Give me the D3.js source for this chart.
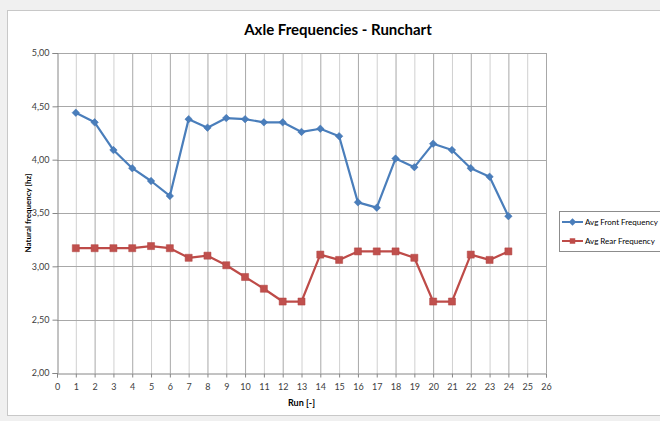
<!DOCTYPE html>
<html>
<head>
<meta charset="utf-8">
<script src="https://cdn.jsdelivr.net/npm/d3@7"></script>
<style>
  body { margin: 0; background: #f0f0f0; }
  svg { display: block; font-family: Lato, "DejaVu Sans", sans-serif; }
</style>
</head>
<body>
<svg id="chart" width="660" height="421"></svg>
<script>
const runs = d3.range(1, 25);
const frontFreq = [4.44, 4.35, 4.09, 3.92, 3.80, 3.66, 4.38, 4.30, 4.39, 4.38, 4.35, 4.35,
                   4.26, 4.29, 4.22, 3.60, 3.55, 4.01, 3.93, 4.15, 4.09, 3.92, 3.84, 3.47];
const rearFreq = [3.17, 3.17, 3.17, 3.17, 3.19, 3.17, 3.08, 3.10, 3.01, 2.90, 2.79, 2.67,
                  2.67, 3.11, 3.06, 3.14, 3.14, 3.14, 3.08, 2.67, 2.67, 3.11, 3.06, 3.14];
const xTicks = d3.range(0, 27);
const yTicks = [2.0, 2.5, 3.0, 3.5, 4.0, 4.5, 5.0];
const seriesNames = ["Avg Front Frequency", "Avg Rear Frequency"];

const svg = d3.select("#chart");

// chart area frame
svg.append("rect")
    .attr("x", 7.5).attr("y", 10.5)
    .attr("width", 670).attr("height", 405)
    .attr("fill", "#fff").attr("stroke", "#c8c8c8");

const x = d3.scaleLinear().domain([0, 26]).range([57, 546]);
const y = d3.scaleLinear().domain([2, 5]).range([373, 53]);

// vertical grid
svg.append("g")
    .selectAll("line")
    .data(xTicks.slice(1))
    .enter().append("line")
    .attr("x1", d => x(d) + 0.5).attr("x2", d => x(d) + 0.5)
    .attr("y1", y(5)).attr("y2", y(2))
    .attr("stroke", d => d % 2 ? "#d0d0d0" : "#a8a8a8")
    .attr("stroke-width", 1);

// horizontal grid
svg.append("g")
    .selectAll("line")
    .data(yTicks.slice(1))
    .enter().append("line")
    .attr("x1", x(0)).attr("x2", x(26))
    .attr("y1", d => Math.round(y(d)) + 0.5).attr("y2", d => Math.round(y(d)) + 0.5)
    .attr("stroke", "#a8a8a8");

// axes
const yAxis = svg.append("g")
    .attr("transform", `translate(${x(0) + 0.5},0)`)
    .call(d3.axisLeft(y).tickValues(yTicks).tickSize(5).tickPadding(3)
        .tickFormat(d => d3.format(".2f")(d).replace(".", ",")));
const xAxis = svg.append("g")
    .attr("transform", `translate(0,${y(2) + 0.5})`)
    .call(d3.axisBottom(x).tickValues(xTicks).tickSize(4).tickPadding(6));

[xAxis, yAxis].forEach(a => {
    a.select(".domain").attr("stroke", "#868686");
    a.selectAll(".tick line").attr("stroke", "#868686");
    a.selectAll("text").attr("font-size", 9).attr("fill", "#404040")
        .attr("font-family", "Lato, sans-serif");
});

// series
const lineGen = vals => d3.line().x((d, i) => x(runs[i])).y(d => y(d))(vals);

svg.append("path")
    .attr("d", lineGen(frontFreq))
    .attr("fill", "none").attr("stroke", "#4a7ebb").attr("stroke-width", 2.2)
    .attr("stroke-linejoin", "round");
svg.append("path")
    .attr("d", lineGen(rearFreq))
    .attr("fill", "none").attr("stroke", "#be4b48").attr("stroke-width", 2.2)
    .attr("stroke-linejoin", "round");

const diamond = d3.symbol().type(d3.symbolDiamond2).size(36);
const square = d3.symbol().type(d3.symbolSquare).size(50);

svg.append("g").selectAll("path")
    .data(frontFreq)
    .enter().append("path")
    .attr("d", diamond)
    .attr("transform", (d, i) => `translate(${x(runs[i])},${y(d)})`)
    .attr("fill", "#4a7ebb").attr("stroke", "#3d6fae").attr("stroke-width", 0.5);

svg.append("g").selectAll("path")
    .data(rearFreq)
    .enter().append("path")
    .attr("d", square)
    .attr("transform", (d, i) => `translate(${x(runs[i])},${y(d)})`)
    .attr("fill", "#c0504d").attr("stroke", "#b04542").attr("stroke-width", 0.5);

// title
svg.append("text")
    .attr("x", 338).attr("y", 35)
    .attr("text-anchor", "middle")
    .attr("font-size", 15).attr("font-weight", "bold")
    .attr("fill", "#000")
    .text("Axle Frequencies - Runchart");

// axis titles
svg.append("text")
    .attr("transform", `translate(31,${(y(2) + y(5)) / 2})rotate(-90)`)
    .attr("text-anchor", "middle")
    .attr("font-size", 8).attr("font-weight", "bold")
    .text("Natural frequency [hz]");

svg.append("text")
    .attr("x", x(13)).attr("y", 406)
    .attr("text-anchor", "middle")
    .attr("font-size", 9).attr("font-weight", "bold")
    .text("Run [-]");

// legend
const legend = svg.append("g").attr("transform", "translate(559,211)");
legend.append("rect")
    .attr("x", 0.5).attr("y", 0.5).attr("width", 110).attr("height", 40)
    .attr("fill", "#fff").attr("stroke", "#8c8c8c");

const legendColors = ["#4a7ebb", "#be4b48"];
const legendSymbols = [diamond, d3.symbol().type(d3.symbolSquare).size(30)];
const item = legend.selectAll(".item")
    .data(seriesNames)
    .enter().append("g")
    .attr("transform", (d, i) => `translate(0,${11 + i * 19})`);
item.append("line")
    .attr("x1", 3).attr("x2", 24)
    .attr("stroke", (d, i) => legendColors[i]).attr("stroke-width", 2);
item.append("path")
    .attr("d", (d, i) => legendSymbols[i]())
    .attr("transform", "translate(13.5,0)")
    .attr("fill", (d, i) => legendColors[i]);
item.append("text")
    .attr("x", 26).attr("dy", "0.35em")
    .attr("font-size", 8)
    .attr("fill", "#000")
    .text(d => d);
</script>
</body>
</html>
